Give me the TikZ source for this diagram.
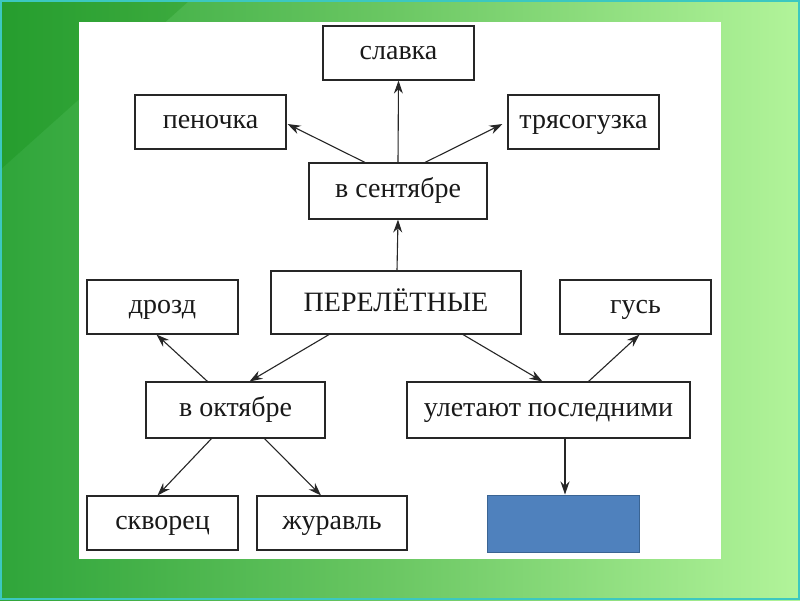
\documentclass[tikz,border=0pt]{standalone}
\usepackage{fontspec}
\setmainfont{Liberation Serif}
\usetikzlibrary{calc,arrows.meta}
\definecolor{bgdark}{HTML}{2FA53A}
\definecolor{bgmid}{HTML}{6CC864}
\definecolor{bglight}{HTML}{B2F49A}
\definecolor{frame}{HTML}{3CC8C0}
\definecolor{bluefill}{HTML}{4F81BD}
\definecolor{blueline}{HTML}{3A6493}
\tikzset{
  box/.style={draw=black!85, line width=1.1pt, fill=white, inner sep=0pt,
    font=\fontsize{28}{30}\selectfont, text=black!90, text height=13pt, text depth=0pt},
  arr/.style={line width=1.1pt, draw=black!85, -{Stealth[length=13pt,width=9pt]}},
}
\begin{document}
\begin{tikzpicture}[x=1pt,y=-1pt]
\useasboundingbox (0,0) rectangle (800,600);
% background
\shade[left color=bgdark, right color=bglight, middle color=bgmid] (0,0) rectangle (800,600);
\fill[green!50!black, opacity=0.2] (0,0) -- (190,0) -- (0,170) -- cycle;
\draw[frame, line width=2pt] (1,1) rectangle (799,599);
\fill[white] (79,22) rectangle (721,559);
% nodes
\node[box, minimum width=151, minimum height=54] (slavka) at (398.5,53) {славка};
\node[box, minimum width=151, minimum height=54] (pen) at (210.5,122) {пеночка};
\node[box, minimum width=151, minimum height=54] (trya) at (583.5,122) {трясогузка};
\node[box, minimum width=178, minimum height=56] (sent) at (398,191) {в сентябре};
\node[box, minimum width=250, minimum height=63, text height=18.5pt] (per) at (396,302.5) {ПЕРЕЛЁТНЫЕ};
\node[box, minimum width=151, minimum height=54] (drozd) at (162.5,307) {дрозд};
\node[box, minimum width=151, minimum height=54] (gus) at (635.5,307) {гусь};
\node[box, minimum width=179, minimum height=56] (okt) at (235.5,410) {в октябре};
\node[box, minimum width=283, minimum height=56] (ulet) at (548.5,410) {улетают последними};
\node[box, minimum width=151, minimum height=54] (skv) at (162.5,523) {скворец};
\node[box, minimum width=150, minimum height=54] (zhu) at (332,523) {журавль};
\node[draw=blueline, fill=bluefill, line width=1pt, minimum width=152, minimum height=57, inner sep=0pt] (blue) at (563,523.5) {};
% connectors
\draw[arr] (sent.north) -- (slavka.south);
\draw[arr] ($(sent.north)+(-33,0)$) -- ($(pen.east)+(1,2)$);
\draw[arr] ($(sent.north)+(27,0)$) -- ($(trya.west)+(-5,2)$);
\draw[arr] ($(per.north)+(1,0)$) -- ($(sent.south)+(0,0)$);
\draw[arr] ($(per.south)+(-67,0)$) -- ($(okt.north)+(14,0)$);
\draw[arr] ($(per.south)+(67,0)$) -- ($(ulet.north)+(-6,0)$);
\draw[arr] ($(okt.north)+(-28,0)$) -- ($(drozd.south)+(-6,0)$);
\draw[arr] ($(ulet.north)+(40,0)$) -- ($(gus.south)+(4,0)$);
\draw[arr] ($(okt.south)+(-24,0)$) -- ($(skv.north)+(-5,0)$);
\draw[arr] ($(okt.south)+(29,0)$) -- ($(zhu.north)+(-11,0)$);
\draw[arr] ($(ulet.south)+(16.5,0)$) -- ($(blue.north)+(2,0)$);
\end{tikzpicture}
\end{document}
